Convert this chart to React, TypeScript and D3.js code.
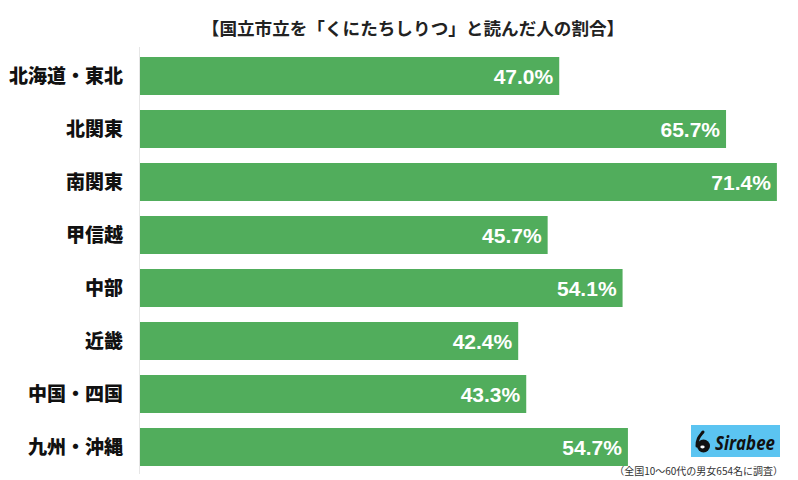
import React from "react";
import * as d3 from "d3";

const categories = ["北海道・東北", "北関東", "南関東", "甲信越", "中部", "近畿", "中国・四国", "九州・沖縄"];
const values = [47.0, 65.7, 71.4, 45.7, 54.1, 42.4, 43.3, 54.7];
const title = "【国立市立を「くにたちしりつ」と読んだ人の割合】";
const footnote = "（全国10〜60代の男女654名に調査）";

const W = 798;
const H = 480;
const FONT = "'Noto Sans CJK JP', 'Noto Sans', sans-serif";

export default function App() {
  const x = d3.scaleLinear().domain([0, 75]).range([140, 140 + 75 * 8.92]);
  const y = d3
    .scaleBand<string>()
    .domain(categories)
    .range([57 - 7.5, 57 - 7.5 + 53 * 8])
    .paddingInner(15 / 53)
    .paddingOuter(15 / 106);
  return (
    <svg width={W} height={H} style={{ position: "absolute", left: 0, top: 0, background: "#fff" }}>
      <rect width={W} height={H} fill="#fff" />
      <text x={413} y={35} textAnchor="middle" fontFamily={FONT} fontWeight={700} fontSize={17.6} fill="#222">
        {title}
      </text>
      <line x1={139.5} x2={139.5} y1={47} y2={474} stroke="#e6e6e6" strokeWidth={1} />
      {categories.map((c, i) => {
        const v = values[i];
        const y0 = y(c)!;
        const bh = y.bandwidth();
        return (
          <g key={c}>
            <rect x={x(0)} y={y0} width={x(v) - x(0)} height={bh} fill="#51ad5c" />
            <text
              x={x(v) - 6}
              y={y0 + bh / 2}
              dy="0.36em"
              textAnchor="end"
              fontFamily="'Liberation Sans', Arial, sans-serif"
              fontWeight={700}
              fontSize={21}
              fill="#fff"
            >
              {v.toFixed(1)}%
            </text>
            <text
              x={123}
              y={y0 + bh / 2}
              dy="0.36em"
              textAnchor="end"
              fontFamily={FONT}
              fontWeight={900}
              fontSize={19}
              fill="#111"
            >
              {c}
            </text>
          </g>
        );
      })}
      <g>
        <rect x={691} y={425} width={89} height={32} fill="#5bc4f1" />
        <path d="M697 446 C697 438 700 436 703 432" fill="none" stroke="#111" strokeWidth={3} strokeLinecap="round" />
        <circle cx={703.5} cy={446} r={6.5} fill="#111" />
        <ellipse cx={702.5} cy={447} rx={2.2} ry={1.4} fill="#fff" />
        <text
          x={715}
          y={450}
          textLength={60}
          lengthAdjust="spacingAndGlyphs"
          fontFamily="'Open Sans', sans-serif"
          fontStyle="italic"
          fontWeight={700}
          fontSize={20}
          fill="#111"
        >
          Sirabee
        </text>
      </g>
      <text x={783} y={475} textAnchor="end" fontFamily={FONT} fontSize={10} fill="#333">
        {footnote}
      </text>
    </svg>
  );
}
